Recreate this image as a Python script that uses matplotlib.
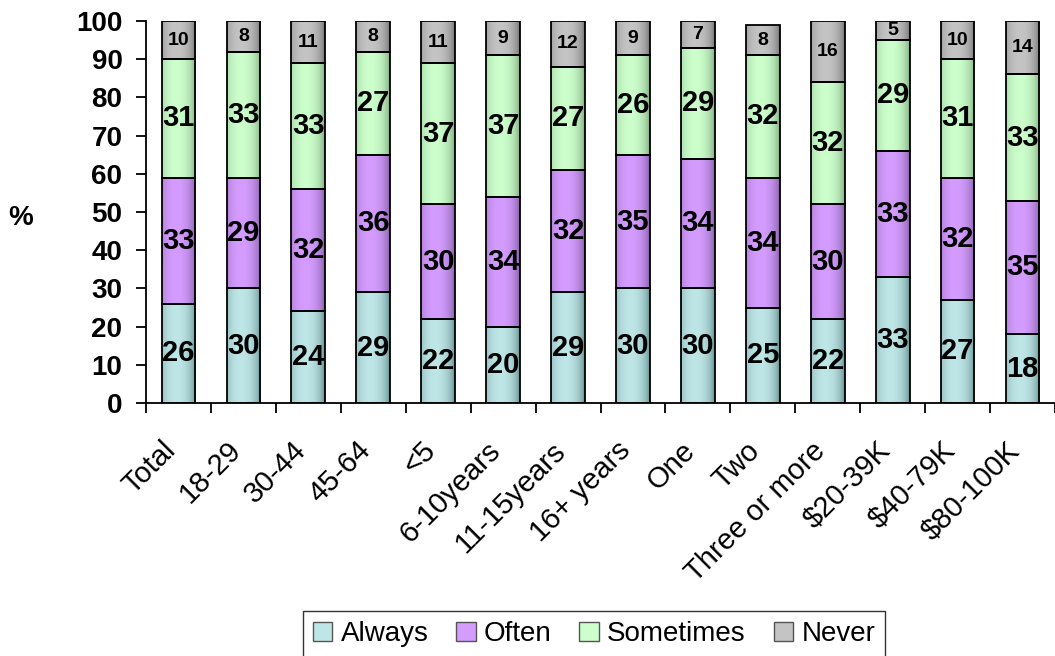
import numpy as np
import matplotlib.pyplot as plt
import matplotlib.transforms as mtransforms
from matplotlib.patches import Patch
from matplotlib.colors import LinearSegmentedColormap

plt.rcParams['font.family'] = ['Liberation Sans', 'DejaVu Sans']

categories = ["Total", "18-29", "30-44", "45-64", "<5", "6-10years", "11-15years",
              "16+ years", "One", "Two", "Three or more", "$20-39K", "$40-79K", "$80-100K"]
always = [26, 30, 24, 29, 22, 20, 29, 30, 30, 25, 22, 33, 27, 18]
often = [33, 29, 32, 36, 30, 34, 32, 35, 34, 34, 30, 33, 32, 35]
sometimes = [31, 33, 33, 27, 37, 37, 27, 26, 29, 32, 32, 29, 31, 33]
never = [10, 8, 11, 8, 11, 9, 12, 9, 7, 8, 16, 5, 10, 14]

series = [("Always", always), ("Often", often), ("Sometimes", sometimes), ("Never", never)]
# (edge shade, highlight) for the cylinder-ish horizontal gradient
shades = {
    "Always": ("#5a8585", "#bfe6e6"),
    "Often": ("#7a5799", "#d49cff"),
    "Sometimes": ("#7aa07a", "#ccffcc"),
    "Never": ("#6a6a6a", "#c4c4c4"),
}

fig = plt.figure(figsize=(10.55, 6.56), dpi=100)
ax = fig.add_axes([146 / 1055, 253 / 656, 909 / 1055, 382 / 656])

x = np.arange(len(categories))
width = 0.52
bottom = np.zeros(len(categories))

# horizontal profile: dark at edges, brightest a bit left of centre
t = np.linspace(0, 1, 64)
profile = np.clip(1 - ((t - 0.42) / 0.58) ** 2, 0, 1) ** 0.6
grad = np.vstack([profile, profile])

for name, vals in series:
    vals = np.array(vals, dtype=float)
    dark, light = shades[name]
    cmap = LinearSegmentedColormap.from_list(name, [dark, light])
    bars = ax.bar(x, vals, width, bottom=bottom, facecolor="none",
                  edgecolor="black", linewidth=1.3, zorder=3)
    for rect in bars:
        x0, y0 = rect.get_x(), rect.get_y()
        im = ax.imshow(grad, cmap=cmap, aspect="auto", vmin=0, vmax=1,
                       extent=[x0, x0 + rect.get_width(), y0, y0 + rect.get_height()],
                       zorder=2, interpolation="bicubic")
        im.set_clip_path(rect)
    size = 14 if name == "Never" else 21
    for xi, b, v in zip(x, bottom, vals):
        ax.text(xi, b + v / 2, f"{int(v)}", ha="center", va="center",
                fontsize=size, fontweight="bold", zorder=4)
    bottom += vals

ax.set_xlim(-0.5, -0.5 + 909 / 65.3)
ax.set_ylim(0, 100)
ax.set_yticks(range(0, 101, 10))
ax.tick_params(axis="y", labelsize=20, width=1.3, length=7, pad=10, direction="out")
for lab in ax.get_yticklabels():
    lab.set_fontweight("bold")

ax.set_xticks(x)
ax.set_xticklabels(categories, rotation=45, ha="right", rotation_mode="anchor",
                   fontsize=21)
ax.tick_params(axis="x", length=0, pad=24)
shift = mtransforms.ScaledTranslation(-17 / 100, 0, fig.dpi_scale_trans)
for lab in ax.get_xticklabels():
    lab.set_transform(lab.get_transform() + shift)
ax.set_xticks(np.arange(len(categories) + 1) - 0.5, minor=True)
ax.tick_params(axis="x", which="minor", length=7, width=1.3)

for side in ["top", "right"]:
    ax.spines[side].set_visible(False)
for side in ["left", "bottom"]:
    ax.spines[side].set_linewidth(1.3)

fig.text(21 / 1055, 1 - 218 / 656, "%", fontsize=20, fontweight="bold",
         ha="center", va="center")

handles = [Patch(facecolor=shades[n][1], edgecolor="#555555", label=n) for n, _ in series]
leg = fig.legend(handles=handles, loc="center", bbox_to_anchor=(594 / 1055, 1 - 634 / 656),
                 ncol=4, fontsize=20, frameon=True, fancybox=False, edgecolor="black",
                 handlelength=0.7, handleheight=0.7, handletextpad=0.3, columnspacing=1.0,
                 borderpad=0.35)
leg.get_frame().set_linewidth(1.0)

fig.savefig("out.png", dpi=100)
